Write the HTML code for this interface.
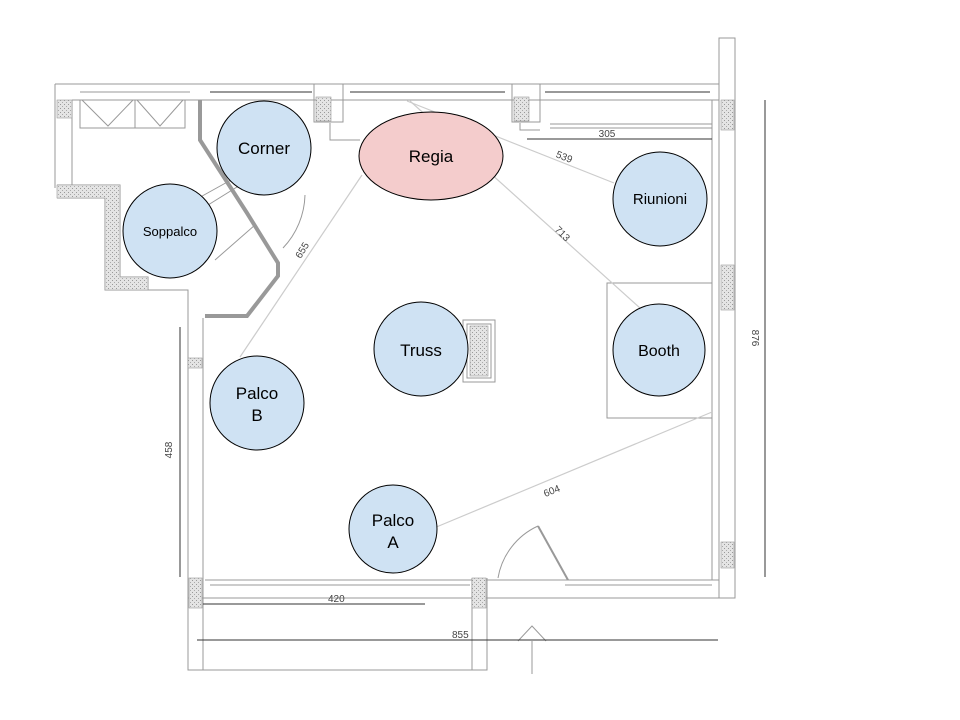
<!DOCTYPE html>
<html><head><meta charset="utf-8"><style>
html,body{margin:0;padding:0;background:#fff;}
svg{display:block;}
text{font-family:"Liberation Sans",sans-serif;}
</style></head><body>
<svg width="960" height="720" viewBox="0 0 960 720" xmlns="http://www.w3.org/2000/svg">
<defs>
<pattern id="h" width="4" height="4" patternUnits="userSpaceOnUse">
<rect width="4" height="4" fill="#e4e4e4"/><rect x="0" y="0" width="1" height="1" fill="#999"/><rect x="2" y="2" width="1" height="1" fill="#aaa"/>
</pattern>
</defs>
<g fill="none" stroke="#999" stroke-width="1">
<line x1="55" y1="84" x2="719" y2="84"/>
<line x1="72" y1="100" x2="719" y2="100"/>
<line x1="80" y1="92" x2="190" y2="92"/>
<line x1="210" y1="92" x2="312" y2="92" stroke-width="2"/>
<line x1="350" y1="92" x2="505" y2="92" stroke-width="2"/>
<line x1="545" y1="92" x2="710" y2="92" stroke-width="2"/>
<rect x="719" y="38" width="16" height="560"/>
<line x1="712" y1="100" x2="712" y2="580"/>
<line x1="55" y1="84" x2="55" y2="188"/>
<line x1="72" y1="100" x2="72" y2="185"/>
<polyline points="57,185 120,185 120,277 148,277 148,290"/>
<polyline points="57,198 105,198 105,290 188,290 188,670 487,670 487,578"/>
<line x1="203" y1="318" x2="203" y2="670"/>
<line x1="472" y1="578" x2="472" y2="670"/>
<line x1="205" y1="580" x2="719" y2="580"/>
<line x1="188" y1="598" x2="735" y2="598"/>
<line x1="210" y1="585" x2="470" y2="585"/>
<line x1="565" y1="585" x2="712" y2="585"/>
<rect x="80" y="100" width="55" height="28"/><rect x="135" y="100" width="50" height="28"/>
<polyline points="82,100 108,126 133,100"/><polyline points="137,100 160,126 183,100"/>
<rect x="314" y="84" width="29" height="38"/>
<rect x="512" y="84" width="28" height="38"/>
<polyline points="330,123 330,140 360,140"/>
<polyline points="520,123 520,130 540,130"/>
<line x1="550" y1="124" x2="712" y2="124"/>
<line x1="550" y1="128" x2="712" y2="128"/>
<rect x="607" y="283" width="105" height="135"/>
<rect x="463" y="320" width="32" height="62"/>
<rect x="467" y="324" width="24" height="54"/>
<path d="M498,578 A70,70 0 0 1 538,526" />
<line x1="538" y1="526" x2="568" y2="580" stroke-width="2"/>
<polyline points="518,641 532,626 546,641"/>
<line x1="532" y1="641" x2="532" y2="674"/>
<polyline points="195,200 240,175 245,182 200,210"/>
<polyline points="215,260 255,225"/>
<path d="M283,248 A80,80 0 0 0 305,195"/>
</g>
<polyline points="200,100 200,140 247,213 278,263 278,276 247,316 205,316" fill="none" stroke="#999" stroke-width="4"/>
<g fill="url(#h)" stroke="#999" stroke-width="0.6">
<rect x="57" y="100" width="15" height="18"/>
<polygon points="57,185 120,185 120,277 148,277 148,290 105,290 105,198 57,198"/>
<rect x="316" y="97" width="15" height="24"/>
<rect x="514" y="97" width="15" height="24"/>
<rect x="721" y="100" width="13" height="30"/>
<rect x="721" y="265" width="13" height="45"/>
<rect x="721" y="542" width="13" height="26"/>
<rect x="189" y="578" width="13" height="30"/>
<rect x="472" y="578" width="14" height="30"/>
<rect x="470" y="326" width="18" height="50"/>
<rect x="188" y="358" width="14" height="10"/>
</g>
<g stroke="#ccc" stroke-width="1.2" fill="none">
<line x1="407" y1="101" x2="614" y2="183"/>
<line x1="410" y1="101" x2="640" y2="308"/>
<line x1="362" y1="175" x2="240" y2="357"/>
<line x1="712" y1="412" x2="434" y2="528"/>
</g>
<g stroke="#333" stroke-width="1" fill="none">
<line x1="765" y1="100" x2="765" y2="577"/>
<line x1="180" y1="327" x2="180" y2="577"/>
<line x1="203" y1="604" x2="425" y2="604"/>
<line x1="197" y1="640" x2="718" y2="640"/>
<line x1="527" y1="139" x2="712" y2="139"/>
</g>
<g fill="#444" font-size="10">
<text x="607" y="137" text-anchor="middle">305</text>
<text x="328" y="602">420</text>
<text x="452" y="638">855</text>
<text transform="translate(752,338) rotate(90)" text-anchor="middle">876</text>
<text transform="translate(172,450) rotate(-90)" text-anchor="middle">458</text>
<text transform="translate(563,160) rotate(22)" text-anchor="middle">539</text>
<text transform="translate(560,236) rotate(45)" text-anchor="middle">713</text>
<text transform="translate(305,252) rotate(-58)" text-anchor="middle">655</text>
<text transform="translate(553,494) rotate(-22)" text-anchor="middle">604</text>
</g>
<g stroke="#000" stroke-width="1" fill="#cfe2f3">
<circle cx="264" cy="148" r="47"/>
<circle cx="170" cy="231" r="47"/>
<ellipse cx="431" cy="156" rx="72" ry="44" fill="#f4cccc"/>
<circle cx="660" cy="199" r="47"/>
<circle cx="659" cy="350" r="46"/>
<circle cx="421" cy="349" r="47"/>
<circle cx="257" cy="403" r="47"/>
<circle cx="393" cy="529" r="44"/>
</g>
<g fill="#000" font-size="17" text-anchor="middle">
<text x="264" y="154">Corner</text>
<text x="170" y="236" font-size="13">Soppalco</text>
<text x="431" y="162">Regia</text>
<text x="660" y="204" font-size="15">Riunioni</text>
<text x="659" y="356" font-size="16">Booth</text>
<text x="421" y="356">Truss</text>
<text x="257" y="399">Palco</text>
<text x="257" y="421">B</text>
<text x="393" y="526">Palco</text>
<text x="393" y="548">A</text>
</g>
</svg>
</body></html>
